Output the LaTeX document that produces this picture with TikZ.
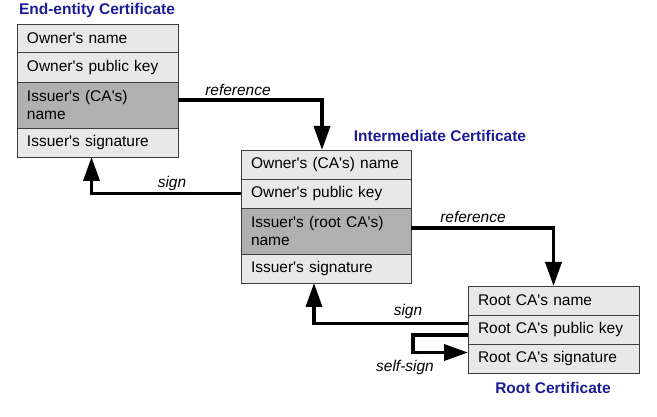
\documentclass[tikz,border=0pt]{standalone}
\usepackage{fontspec}
\setmainfont{Liberation Sans}
\usetikzlibrary{arrows.meta}
\definecolor{titleblue}{RGB}{28,28,150}
\definecolor{rowlight}{RGB}{232,232,232}
\definecolor{rowdark}{RGB}{176,176,176}
\definecolor{rowborder}{RGB}{60,60,60}
\newcommand{\ap}{\textquotesingle}
\tikzset{
  row/.style={draw=rowborder, line width=0.9pt, fill=rowlight, anchor=north west,
    inner xsep=10pt, inner ysep=0pt, outer sep=0pt, align=left,
    font=\fontsize{15.5}{18}\selectfont},
  darkrow/.style={row, fill=rowdark},
  title/.style={font=\fontsize{15.5}{18}\selectfont\bfseries, text=titleblue, inner sep=0pt},
  lbl/.style={font=\fontsize{15.5}{18}\selectfont\itshape, inner sep=0pt},
  conn/.style={line width=3.6pt, -{Triangle[length=24pt,width=16pt]}}
}
\begin{document}
\begin{tikzpicture}[x=1pt,y=-1pt]
\useasboundingbox (0,0) rectangle (657,417);
% End-entity certificate
\node[title] (tE) at (97,10) {End-entity Certificate};
\node[row, text width=141pt, minimum height=28pt] (e1) at (17,24) {Owner\ap s name};
\node[row, text width=141pt, minimum height=30pt] (e2) at (17,52) {Owner\ap s public key};
\node[darkrow, text width=141pt, minimum height=46pt] (e3) at (17,82) {Issuer\ap s (CA\ap s)\\name};
\node[row, text width=141pt, minimum height=29pt] (e4) at (17,128) {Issuer\ap s signature};
% Intermediate certificate
\node[title] (tI) at (440,136) {Intermediate Certificate};
\node[row, text width=150pt, minimum height=29pt] (i1) at (241,150) {Owner\ap s (CA\ap s) name};
\node[row, text width=150pt, minimum height=29pt] (i2) at (241,179) {Owner\ap s public key};
\node[darkrow, text width=150pt, minimum height=46pt] (i3) at (241,208) {Issuer\ap s (root CA\ap s)\\name};
\node[row, text width=150pt, minimum height=29pt] (i4) at (241,254) {Issuer\ap s signature};
% Root certificate
\node[row, text width=151pt, minimum height=29pt] (r1) at (468,286) {Root CA\ap s name};
\node[row, text width=151pt, minimum height=29pt] (r2) at (468,315) {Root CA\ap s public key};
\node[row, text width=151pt, minimum height=29pt] (r3) at (468,344) {Root CA\ap s signature};
\node[title] (tR) at (553,388) {Root Certificate};
% connectors
\draw[conn] ([yshift=5pt]e3.east) -| ([xshift=-4pt]i1.north);
\draw[conn] (i2.west) -| ([xshift=-6pt]e4.south);
\draw[conn] ([yshift=3pt]i3.east) -| (r1.north);
\draw[conn] ([yshift=6pt]r2.west) -| ([xshift=-12pt]i4.south);
\draw[conn] ([yshift=-5.5pt]r2.west) -- ++(-55,0) |- ([yshift=6pt]r3.west);
% labels
\node[lbl] (l1) at (238,90) {reference};
\node[lbl] (l2) at (172,183) {sign};
\node[lbl] (l3) at (473,217) {reference};
\node[lbl] (l4) at (408,311) {sign};
\node[lbl] (l5) at (405,367) {self-sign};
\end{tikzpicture}
\end{document}
